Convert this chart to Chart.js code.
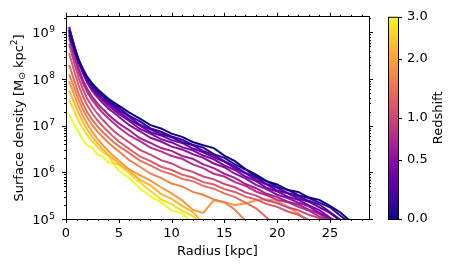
<!DOCTYPE html>
<html>
<head>
<meta charset="utf-8">
<script src="https://cdn.jsdelivr.net/npm/chart.js@4/dist/chart.umd.min.js"></script>
<style>
  html, body { margin: 0; padding: 0; background: #fff; }
  #chart { display: block; }
</style>
</head>
<body>
<canvas id="chart" width="457" height="267"></canvas>
<script>
/* ---------- data: radial profiles, log10 surface density [Msun/kpc^2] ---------- */
var radii = [0.3, 0.8, 1.2, 1.6, 2, 2.5, 3, 3.5, 4, 4.5, 5,
  6, 7, 8, 9, 10, 11, 12, 13, 14, 15, 16, 17, 18, 19, 20, 21, 22, 23, 24, 25, 26, 27];

var redshifts = [0, 0.1, 0.2, 0.3, 0.4, 0.5, 0.65, 0.8, 1.0, 1.2, 1.4, 1.6, 1.85, 2.2, 2.6, 3.0];

var profiles = [
  [9.05, 8.68, 8.42, 8.22, 8.05, 7.90, 7.78, 7.68, 7.58, 7.50, 7.43,
   7.28, 7.15, 7.01, 6.94, 6.83, 6.76, 6.65, 6.58, 6.52, 6.36, 6.24, 6.07, 5.95, 5.81, 5.74, 5.62, 5.58, 5.46, 5.41, 5.28, 5.14, 4.94],
  [9.00, 8.64, 8.38, 8.18, 8.02, 7.86, 7.74, 7.64, 7.55, 7.46, 7.38,
   7.21, 7.09, 6.94, 6.87, 6.77, 6.70, 6.59, 6.53, 6.39, 6.31, 6.17, 6.06, 5.91, 5.81, 5.69, 5.63, 5.51, 5.45, 5.35, 5.25, 5.07, 4.90],
  [8.95, 8.60, 8.35, 8.15, 7.98, 7.83, 7.71, 7.60, 7.51, 7.42, 7.34,
   7.19, 7.02, 6.92, 6.82, 6.75, 6.65, 6.58, 6.46, 6.37, 6.24, 6.13, 5.99, 5.89, 5.75, 5.67, 5.56, 5.49, 5.39, 5.31, 5.15, 4.98],
  [9.05, 8.66, 8.38, 8.16, 7.98, 7.82, 7.69, 7.58, 7.48, 7.39, 7.30,
   7.13, 7.00, 6.86, 6.79, 6.69, 6.63, 6.51, 6.43, 6.32, 6.23, 6.09, 5.98, 5.84, 5.74, 5.61, 5.55, 5.44, 5.37, 5.25, 5.13, 4.96],
  [9.10, 8.70, 8.40, 8.16, 7.96, 7.79, 7.65, 7.54, 7.43, 7.34, 7.25,
   7.10, 6.93, 6.83, 6.71, 6.64, 6.54, 6.47, 6.36, 6.28, 6.15, 6.05, 5.91, 5.81, 5.67, 5.59, 5.48, 5.41, 5.29, 5.19, 5.03, 4.90],
  [9.12, 8.68, 8.36, 8.12, 7.92, 7.74, 7.60, 7.48, 7.37, 7.28, 7.19,
   7.01, 6.88, 6.74, 6.66, 6.55, 6.49, 6.39, 6.31, 6.19, 6.11, 5.97, 5.87, 5.73, 5.64, 5.52, 5.45, 5.35, 5.27, 5.13, 5.01, 4.88],
  [8.95, 8.52, 8.22, 7.98, 7.79, 7.61, 7.47, 7.35, 7.24, 7.14, 7.05,
   6.90, 6.73, 6.63, 6.52, 6.46, 6.35, 6.29, 6.17, 6.09, 5.97, 5.88, 5.75, 5.66, 5.54, 5.47, 5.37, 5.31, 5.20, 5.11, 4.96],
  [8.88, 8.45, 8.15, 7.91, 7.72, 7.54, 7.40, 7.27, 7.16, 7.06, 6.96,
   6.79, 6.67, 6.53, 6.45, 6.35, 6.29, 6.17, 6.09, 5.97, 5.91, 5.79, 5.71, 5.59, 5.51, 5.41, 5.36, 5.26, 5.18, 5.05, 4.94],
  [8.75, 8.32, 8.02, 7.78, 7.58, 7.40, 7.25, 7.12, 7.00, 6.89, 6.80,
   6.64, 6.48, 6.38, 6.26, 6.19, 6.08, 6.01, 5.91, 5.85, 5.75, 5.68, 5.57, 5.50, 5.40, 5.34, 5.25, 5.19, 5.09, 5.02, 4.90],
  [8.55, 8.15, 7.86, 7.63, 7.44, 7.26, 7.11, 6.98, 6.87, 6.76, 6.66,
   6.50, 6.34, 6.24, 6.12, 6.05, 5.95, 5.89, 5.79, 5.74, 5.64, 5.58, 5.48, 5.42, 5.32, 5.26, 5.16, 5.09, 4.98],
  [8.30, 7.95, 7.68, 7.47, 7.29, 7.12, 6.98, 6.86, 6.75, 6.65, 6.56,
   6.41, 6.25, 6.15, 6.03, 5.96, 5.86, 5.81, 5.71, 5.65, 5.55, 5.47, 5.35, 5.23, 5.03, 4.85],
  [8.10, 7.80, 7.55, 7.35, 7.18, 7.01, 6.87, 6.75, 6.64, 6.54, 6.45,
   6.26, 6.12, 5.97, 5.88, 5.76, 5.70, 5.58, 5.52, 5.42, 5.36, 5.20, 4.96],
  [7.95, 7.65, 7.41, 7.21, 7.04, 6.86, 6.71, 6.58, 6.46, 6.35, 6.25,
   6.06, 5.94, 5.82, 5.68, 5.55, 5.40, 5.20, 5.13, 5.40, 5.36, 5.30, 5.33, 5.40, 5.42, 5.39, 5.26, 5.12, 4.92],
  [7.75, 7.48, 7.26, 7.08, 6.92, 6.76, 6.62, 6.49, 6.38, 6.28, 6.19,
   6.03, 5.84, 5.72, 5.54, 5.43, 5.28, 5.15, 4.92],
  [7.55, 7.30, 7.10, 6.94, 6.80, 6.66, 6.54, 6.43, 6.36, 6.20, 6.16,
   5.98, 5.78, 5.60, 5.42, 5.32, 5.18, 5.06, 4.88],
  [7.24, 7.02, 6.86, 6.70, 6.58, 6.52, 6.38, 6.34, 6.22, 6.18, 6.04,
   5.88, 5.66, 5.48, 5.36, 5.18, 5.12, 4.90]
];

var xTicks = [0, 5, 10, 15, 20, 25];
var yTicks = [1e5, 1e6, 1e7, 1e8, 1e9];
var cbTicks = [0, 0.5, 1.0, 2.0, 3.0];

/* matplotlib 'plasma', sampled every 0.1 */
var PLASMA = ['#0d0887', '#41049d', '#6a00a8', '#8f0da4', '#b12a90', '#cc4778',
              '#e16462', '#f2844b', '#fca636', '#fcce25', '#f0f921'];

var FONT = "'DejaVu Sans', sans-serif";
var X_MAX = 28.7, Y_MIN = 1e5, Y_MAX = 2.15e9, Z_MAX = 3;

/* ---------- colour helpers ---------- */
function hexRgb(h) {
  return [parseInt(h.slice(1, 3), 16), parseInt(h.slice(3, 5), 16), parseInt(h.slice(5, 7), 16)];
}
function plasma(t) {
  t = Math.max(0, Math.min(1, t)) * (PLASMA.length - 1);
  var i = Math.min(Math.floor(t), PLASMA.length - 2), f = t - i;
  var a = hexRgb(PLASMA[i]), b = hexRgb(PLASMA[i + 1]);
  return 'rgb(' + a.map(function (v, k) { return Math.round(v + (b[k] - v) * f); }).join(',') + ')';
}
/* colour scale is log(1+z), same as the colourbar */
function zNorm(z) { return Math.log10(1 + z) / Math.log10(1 + Z_MAX); }

var datasets = profiles.map(function (vals, i) {
  return {
    label: 'z = ' + redshifts[i],
    data: vals.map(function (v, j) { return { x: radii[j], y: Math.pow(10, v) }; }),
    borderColor: plasma(zNorm(redshifts[i])),
    borderWidth: 2,
    pointRadius: 0,
    tension: 0,
    fill: false,
    clip: 0
  };
});

/* ---------- matplotlib-ish ticks, colourbar and axis titles ---------- */
function seg(ctx, x1, y1, x2, y2) {
  ctx.beginPath(); ctx.moveTo(x1, y1); ctx.lineTo(x2, y2); ctx.stroke();
}
var decorPlugin = {
  id: 'decor',
  afterDraw: function (chart) {
    var ctx = chart.ctx, a = chart.chartArea, sx = chart.scales.x, sy = chart.scales.y, cb = chart.scales.cb;
    ctx.save();
    ctx.strokeStyle = '#000';
    ctx.lineWidth = 1;

    /* x ticks, bottom and top, minor every 1 kpc */
    for (var v = 0; v <= X_MAX; v++) {
      var px = Math.round(sx.getPixelForValue(v)) + 0.5;
      var len = xTicks.indexOf(v) >= 0 ? 4 : 2;
      seg(ctx, px, a.bottom, px, a.bottom + len);
      seg(ctx, px, a.top, px, a.top - len);
    }
    /* y ticks, left and right, log minors */
    yTicks.forEach(function (dec) {
      for (var m = 1; m <= 9; m++) {
        var val = dec * m;
        if (val > Y_MAX) break;
        var py = Math.round(sy.getPixelForValue(val)) + 0.5;
        var l = m === 1 ? 4 : 2;
        seg(ctx, a.left - l, py, a.left, py);
        seg(ctx, a.right, py, a.right + l, py);
      }
    });

    /* y tick labels as 10 with a raised exponent, like mathtext */
    ctx.fillStyle = '#000';
    ctx.textBaseline = 'alphabetic';
    yTicks.forEach(function (dec) {
      var py = sy.getPixelForValue(dec);
      var ex = String(Math.round(Math.log10(dec)));
      ctx.font = '9px ' + FONT;
      var ew = ctx.measureText(ex).width;
      ctx.textAlign = 'right';
      ctx.fillText(ex, 55, py - 0.5);
      ctx.font = '13px ' + FONT;
      ctx.fillText('10', 55 - ew - 0.5, py + 4.7);
    });

    /* colourbar */
    var bx = cb.left - 10, bw = 10;
    var g = ctx.createLinearGradient(0, a.bottom, 0, a.top);
    PLASMA.forEach(function (c, i) { g.addColorStop(i / (PLASMA.length - 1), c); });
    ctx.fillStyle = g;
    ctx.fillRect(bx, a.top, bw, a.bottom - a.top);
    ctx.strokeRect(bx + 0.5, a.top + 0.5, bw, a.bottom - a.top);
    cbTicks.forEach(function (z) {
      var py = Math.round(cb.getPixelForValue(1 + z)) + 0.5;
      seg(ctx, cb.left, py, cb.left + 4, py);
    });

    /* axis titles */
    ctx.fillStyle = '#000';
    ctx.font = '13px ' + FONT;
    ctx.textAlign = 'center';
    ctx.textBaseline = 'middle';
    ctx.fillText('Radius [kpc]', (a.left + a.right) / 2, 252);

    ctx.save();
    ctx.translate(438.5, (a.top + a.bottom) / 2);
    ctx.rotate(-Math.PI / 2);
    ctx.fillText('Redshift', 0, 0);
    ctx.restore();

    /* y title with subscript sun and superscript 2 */
    var parts = [
      ['Surface density [M', 13, 0], ['\u2299', 9, 3], [' kpc', 13, 0], ['2', 9, -5], [']', 13, 0]
    ];
    var total = 0;
    parts.forEach(function (p) { ctx.font = p[1] + 'px ' + FONT; p.push(ctx.measureText(p[0]).width); total += p[3]; });
    ctx.save();
    ctx.translate(19.5, (a.top + a.bottom) / 2);
    ctx.rotate(-Math.PI / 2);
    ctx.textAlign = 'left';
    var cx = -total / 2;
    parts.forEach(function (p) {
      ctx.font = p[1] + 'px ' + FONT;
      ctx.fillText(p[0], cx, p[2]);
      cx += p[3];
    });
    ctx.restore();
    ctx.restore();
  }
};

function noGrid() { return { display: false, drawTicks: false, drawOnChartArea: false }; }
var border = { display: true, color: '#000', width: 1 };
var tickFont = { family: FONT, size: 13 };

new Chart(document.getElementById('chart'), {
  type: 'line',
  data: { datasets: datasets },
  options: {
    responsive: false,
    animation: false,
    events: [],
    layout: { padding: 0 },
    plugins: { legend: { display: false }, tooltip: { enabled: false } },
    scales: {
      x: {
        type: 'linear', position: 'bottom', min: 0, max: X_MAX,
        grid: noGrid(), border: border,
        afterBuildTicks: function (s) { s.ticks = xTicks.map(function (v) { return { value: v }; }); },
        afterFit: function (s) { s.height = 48; },
        ticks: { color: '#000', font: tickFont, padding: 7, maxRotation: 0, callback: function (v) { return String(v); } }
      },
      x2: {
        type: 'linear', position: 'top', min: 0, max: X_MAX,
        grid: noGrid(), border: border, ticks: { display: false },
        afterFit: function (s) { s.height = 11; }
      },
      y: {
        type: 'logarithmic', position: 'left', min: Y_MIN, max: Y_MAX,
        grid: noGrid(), border: border,
        afterBuildTicks: function (s) { s.ticks = yTicks.map(function (v) { return { value: v }; }); },
        afterFit: function (s) { s.width = 66; },
        ticks: { display: false }
      },
      y2: {
        type: 'logarithmic', position: 'right', min: Y_MIN, max: Y_MAX, weight: 0,
        grid: noGrid(), border: border, ticks: { display: false },
        afterFit: function (s) { s.width = 29; }
      },
      cb: {
        type: 'logarithmic', position: 'right', min: 1, max: 1 + Z_MAX, weight: 1,
        grid: noGrid(), border: { display: false },
        afterBuildTicks: function (s) { s.ticks = cbTicks.map(function (z) { return { value: 1 + z }; }); },
        afterFit: function (s) { s.width = 59; },
        ticks: {
          color: '#000', font: tickFont, padding: 9,
          callback: function (v) { return (v - 1).toFixed(1); }
        }
      }
    }
  },
  plugins: [decorPlugin]
});
</script>
</body>
</html>
